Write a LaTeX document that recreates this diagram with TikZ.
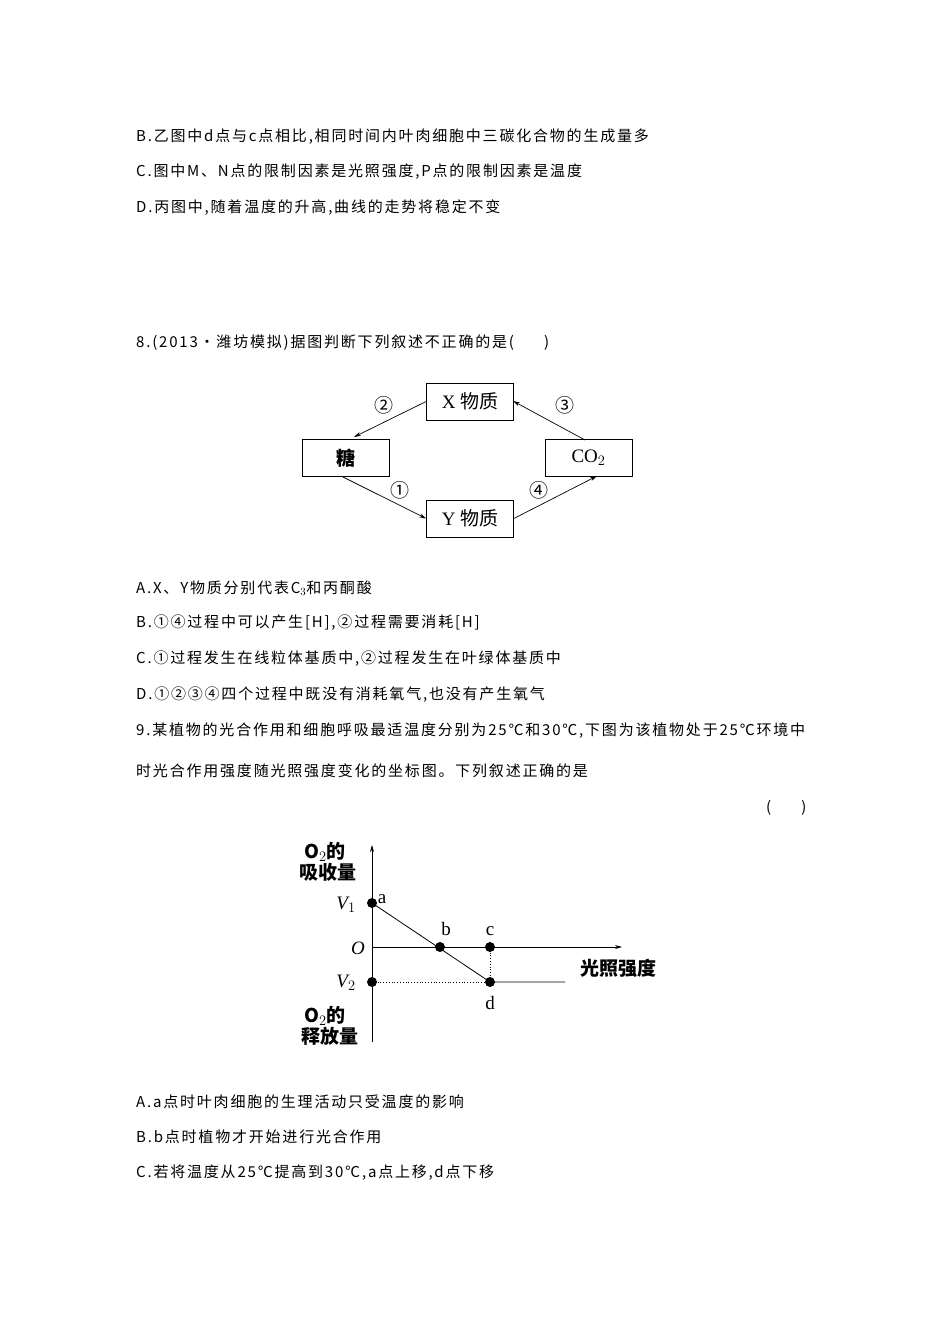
\documentclass[tikz,border=0pt]{standalone}
\usepackage{fontspec}
\setmainfont{Noto Sans CJK SC}
\newfontfamily\serifl{Liberation Serif}
\newfontfamily\cjkf{Noto Sans CJK SC}
\newfontfamily\bodyf[LetterSpace=12]{Noto Sans CJK SC}
\usetikzlibrary{arrows.meta}
\begin{document}
\begin{tikzpicture}[x=1pt,y=-1pt,
  txt/.style={anchor=west,inner sep=0pt,font=\fontsize{15}{16}\bodyf},
  bx/.style={draw,line width=0.8pt,minimum width=87pt,minimum height=37pt,inner sep=0pt,font=\fontsize{19}{20}\selectfont\serifl},
  arr/.style={-{Stealth[length=7pt,width=4pt]},line width=0.7pt},
  cn/.style={font=\fontsize{19}{20}\selectfont,inner sep=0pt},
  gl/.style={font=\fontsize{19}{20}\selectfont\bfseries,inner sep=0pt},
  gs/.style={font=\fontsize{19}{20}\selectfont\serifl,inner sep=0pt},
  dot/.style={circle,fill,inner sep=0pt,minimum size=10pt}]
\useasboundingbox[fill=white] (0,0) rectangle (950,1344);
\node[txt] (t1) at (136,137) {B.乙图中d点与c点相比,相同时间内叶肉细胞中三碳化合物的生成量多};
\node[txt] (t2) at (136,172) {C.图中M、N点的限制因素是光照强度,P点的限制因素是温度};
\node[txt] (t3) at (136,208) {D.丙图中,随着温度的升高,曲线的走势将稳定不变};
\node[txt] (t4) at (136,343) {8.(2013·潍坊模拟)据图判断下列叙述不正确的是(\hspace{2em})};
\node[bx] (X) at (470,401.5) {X {\cjkf 物质}};
\node[bx] (T) at (346,458) {\cjkf\bfseries 糖};
\node[bx] (C) at (588.5,458) {CO$_2$};
\node[bx] (Y) at (470,518.5) {Y {\cjkf 物质}};
\draw[arr] (X.west) -- (354,437);
\draw[arr] (585,440) -- (513,401);
\draw[arr] (343,477) -- (Y.west);
\draw[arr] (Y.east) -- (597,476);
\node[cn] (n2) at (384,405) {②};
\node[cn] (n3) at (565,405) {③};
\node[cn] (n1) at (400,490) {①};
\node[cn] (n4) at (539,490) {④};
\node[txt] (a8) at (136,588) {A.X、Y物质分别代表C$_3$和丙酮酸};
\node[txt] (b8) at (136,623) {B.①④过程中可以产生[H],②过程需要消耗[H]};
\node[txt] (c8) at (136,659) {C.①过程发生在线粒体基质中,②过程发生在叶绿体基质中};
\node[txt] (d8) at (136,695) {D.①②③④四个过程中既没有消耗氧气,也没有产生氧气};
\node[txt] (q9) at (136,731) {9.某植物的光合作用和细胞呼吸最适温度分别为25℃和30℃,下图为该植物处于25℃环境中};
\node[txt] (q9b) at (136,771) {时光合作用强度随光照强度变化的坐标图。下列叙述正确的是};
\node[txt] (par) at (766,808) {(\hspace{2em})};
% graph
\coordinate (ybot) at (372,1042);
\coordinate (ytop) at (372,845);
\coordinate (o) at (372,947);
\coordinate (xend) at (622,947);
\draw[arr] (ybot) -- (ytop);
\draw[arr] (o) -- (xend);
\node[dot] (pa) at (372,903) {};
\node[dot] (pb) at (440,947) {};
\node[dot] (pc) at (490,947) {};
\node[dot] (pd) at (490,982) {};
\node[dot] (pv) at (372,982) {};
\coordinate (lend) at (565,982);
\draw[line width=0.8pt] (pa.center) -- (pd.center) -- (lend);
\draw[dotted,line width=0.8pt] (pv.center) -- (pd.center);
\draw[dotted,line width=0.8pt] (pc.center) -- (pd.center);
\node[gl] (l1) at (325,852) {O$_2$的};
\node[gl] (l2) at (328,872) {吸收量};
\node[gl] (l3) at (325,1016) {O$_2$的};
\node[gl] (l4) at (330,1036) {释放量};
\node[gl,anchor=center] (l5) at (618,968) {光照强度};
\node[gs] (v1) at (346,905) {\itshape V\upshape$_1$};
\node[gs] (v2) at (346,983) {\itshape V\upshape$_2$};
\node[gs] (lo) at (358,948) {\itshape O};
\node[gs] (la) at (382,899) {a};
\node[gs] (lb) at (446,929) {b};
\node[gs] (lc) at (490,931) {c};
\node[gs] (ld) at (490,1003) {d};
\node[txt] (a9) at (136,1102) {A.a点时叶肉细胞的生理活动只受温度的影响};
\node[txt] (b9) at (136,1137) {B.b点时植物才开始进行光合作用};
\node[txt] (c9) at (136,1173) {C.若将温度从25℃提高到30℃,a点上移,d点下移};
\end{tikzpicture}
\end{document}
